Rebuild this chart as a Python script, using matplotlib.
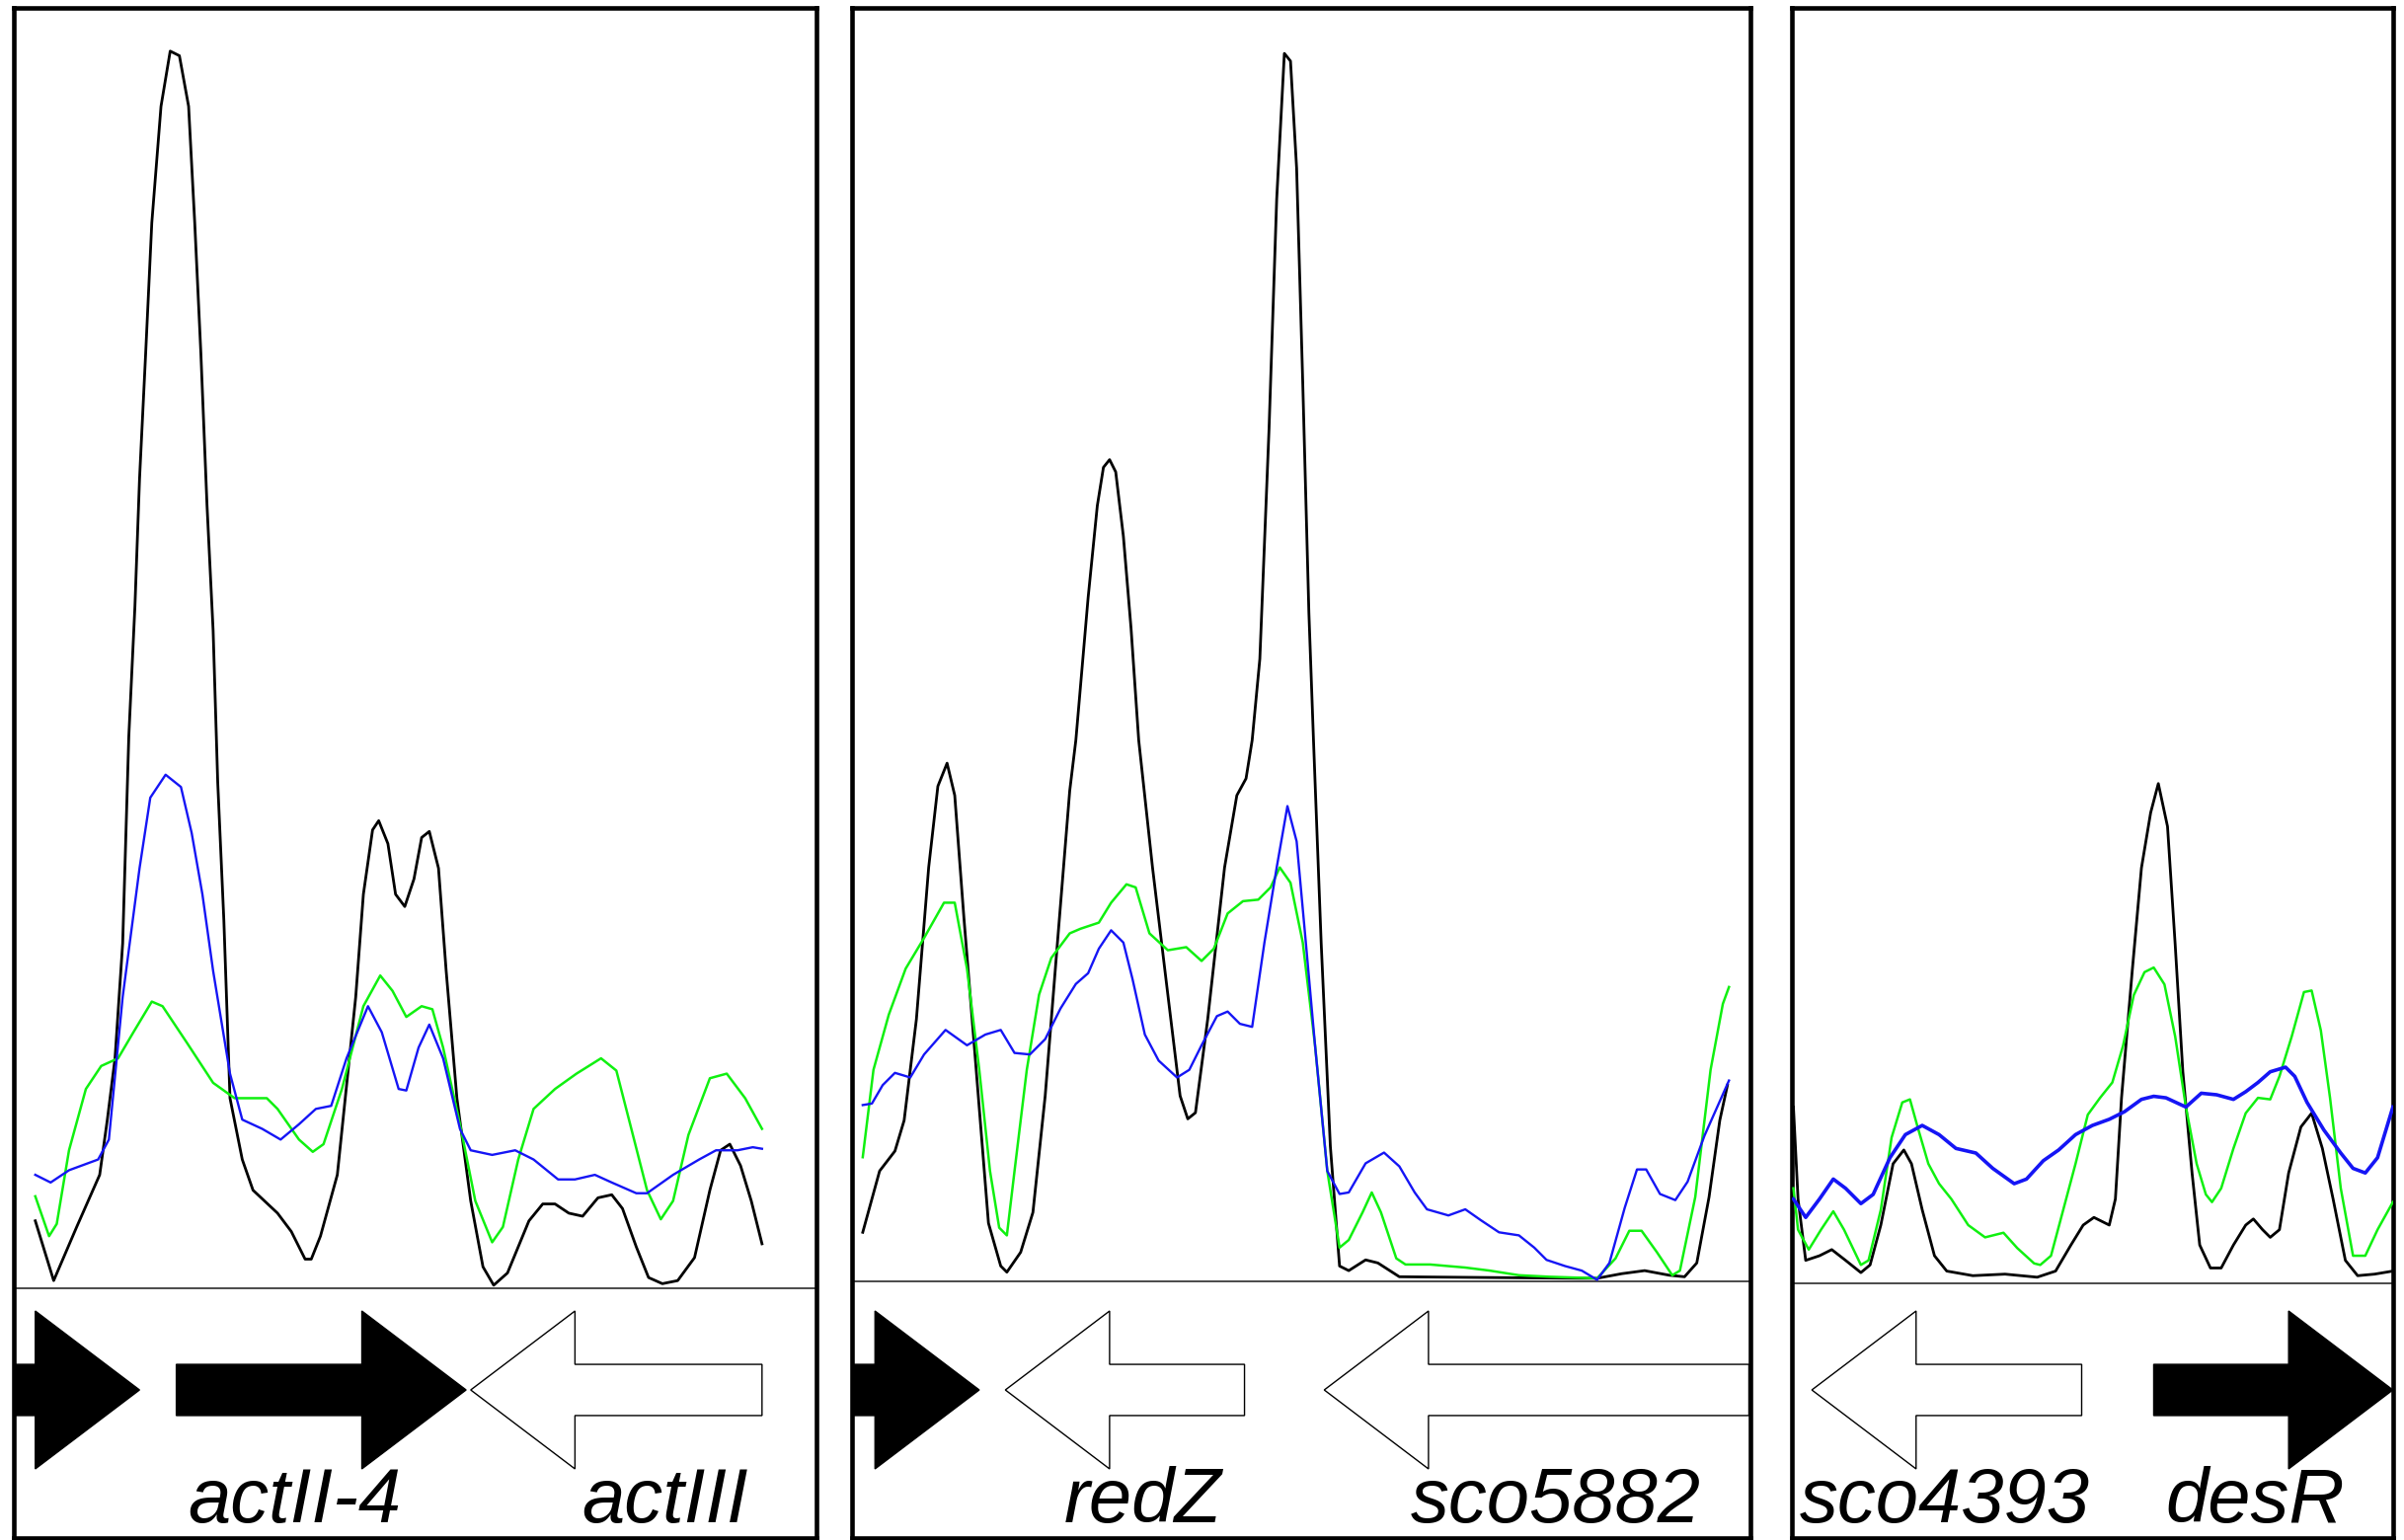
import matplotlib
matplotlib.use("Agg")
import matplotlib.pyplot as plt
from matplotlib.patches import FancyArrow

# ChIP-like signal tracks
# x = position along each window, y = signal above the baseline (same units in all panels)

# --- panel 1: actII-4 / actIII ---
p1_black_x = [14, 26, 41, 56, 61, 66, 71, 75, 79, 82, 86, 90, 96, 102, 108, 114, 118, 122, 126, 130,
              133, 137, 141, 149, 156, 172, 181, 190, 194, 200, 211, 223, 228, 234, 238, 244, 249, 255, 261, 266,
              271, 277, 282, 289, 298, 306, 313, 322, 336, 345, 353, 362, 371, 381, 390, 397, 406, 414, 423, 433,
              444, 454, 461, 467, 474, 481, 488]
p1_black_y = [44, 5, 40, 74, 110, 150, 225, 360, 445, 528, 610, 695, 771, 807, 804, 771, 695, 610, 511, 429,
              330, 240, 124, 84, 64, 49, 37, 19, 19, 34, 74, 190, 257, 299, 305, 290, 257, 249, 267, 294,
              298, 274, 207, 124, 57, 14, 2, 10, 44, 55, 55, 49, 47, 59, 61, 52, 27, 7, 3, 5,
              20, 64, 90, 94, 80, 57, 29]
p1_green_x = [14, 23, 28, 36, 47, 57, 68, 78, 90, 97, 113, 130, 144, 165, 172, 186, 195, 202, 214, 228,
              239, 247, 256, 266, 273, 280, 291, 301, 312, 319, 329, 339, 353, 367, 383, 393, 402, 413, 422, 430,
              440, 454, 465, 477, 488]
p1_green_y = [60, 34, 42, 90, 130, 145, 150, 167, 187, 184, 160, 134, 124, 124, 117, 97, 89, 94, 130, 184,
              204, 194, 177, 184, 182, 157, 107, 57, 30, 40, 84, 117, 130, 140, 150, 142, 107, 64, 45, 57,
              100, 137, 140, 124, 104]
p1_blue_x = [14, 24, 36, 55, 62, 71, 82, 89, 99, 109, 116, 123, 130, 141, 149, 162, 174, 186, 197, 207,
             217, 231, 240, 251, 256, 264, 271, 280, 291, 298, 312, 327, 339, 355, 366, 379, 390, 406, 413, 430,
             447, 458, 472, 482, 488]
p1_blue_y = [74, 69, 77, 84, 97, 190, 274, 320, 335, 327, 297, 257, 207, 140, 110, 104, 97, 107, 117, 119,
             150, 184, 167, 130, 129, 157, 172, 150, 104, 90, 87, 90, 84, 71, 71, 74, 69, 62, 62, 74,
             84, 90, 90, 92, 91]

# --- panel 2: redZ / sco5882 ---
p2_black_x = [7, 18, 28, 34, 42, 50, 56, 62, 67, 73, 81, 89, 97, 101, 110, 118, 126, 134, 142, 146,
              154, 160, 164, 168, 172, 177, 182, 187, 196, 206, 214, 219, 224, 232, 243, 251, 257, 261, 266, 272,
              277, 282, 286, 290, 294, 298, 301, 306, 312, 318, 324, 335, 343, 357, 474, 486, 502, 517, 533, 543,
              551, 559, 566, 571]
p2_black_y = [32, 72, 85, 105, 171, 270, 323, 338, 317, 237, 138, 38, 10, 6, 19, 45, 121, 221, 320, 353,
              446, 506, 531, 536, 528, 486, 426, 353, 270, 187, 121, 106, 110, 171, 270, 317, 328, 353, 406, 556,
              706, 801, 796, 726, 586, 436, 353, 221, 88, 10, 7, 14, 12, 3, 2, 2, 5, 7, 4, 3,
              12, 55, 105, 128]
p2_green_x = [7, 14, 24, 35, 47, 60, 67, 75, 83, 90, 96, 101, 106, 114, 122, 130, 142, 149, 161, 169,
              179, 185, 194, 206, 218, 228, 236, 245, 255, 265, 273, 279, 286, 294, 302, 310, 318, 324, 333, 339,
              345, 355, 361, 377, 400, 416, 435, 455, 486, 498, 507, 515, 525, 535, 540, 550, 560, 568, 572]
p2_green_y = [81, 138, 174, 204, 224, 247, 247, 204, 138, 72, 35, 30, 72, 138, 187, 211, 227, 230, 234, 247,
              259, 257, 227, 216, 218, 209, 217, 240, 248, 249, 257, 270, 260, 221, 154, 72, 22, 27, 45, 58,
              45, 15, 11, 11, 9, 7, 4, 3, 2, 15, 33, 33, 19, 4, 7, 55, 138, 181, 192]
p2_blue_x = [7, 13, 20, 28, 38, 47, 61, 75, 87, 97, 106, 116, 126, 136, 146, 154, 161, 169, 177, 183,
             191, 200, 212, 220, 228, 238, 245, 253, 261, 269, 277, 284, 290, 296, 302, 310, 318, 324, 335, 347,
             357, 367, 375, 389, 400, 410, 422, 435, 445, 453, 465, 476, 486, 494, 504, 512, 518, 527, 537, 545,
             556, 572]
p2_blue_y = [115, 116, 128, 136, 133, 148, 164, 154, 161, 164, 149, 148, 158, 178, 194, 201, 217, 229, 221, 197,
             161, 144, 133, 138, 154, 173, 176, 168, 166, 221, 270, 310, 287, 221, 154, 72, 57, 58, 77, 84,
             75, 58, 47, 43, 47, 40, 32, 30, 22, 14, 10, 7, 1, 12, 48, 73, 73, 57, 53, 65,
             95, 131]

# --- panel 3: sco4393 / desR ---
p3_black_x = [1, 4, 9, 18, 26, 35, 45, 51, 58, 66, 73, 78, 85, 93, 101, 118, 139, 160, 172, 182,
              190, 197, 203, 207, 211, 215, 222, 228, 234, 239, 245, 250, 255, 261, 266, 273, 280, 288, 296, 301,
              307, 312, 318, 324, 332, 339, 346, 353, 361, 369, 380, 392]
p3_black_y = [115, 55, 15, 18, 22, 15, 7, 12, 38, 78, 87, 78, 48, 18, 8, 5, 6, 4, 8, 25,
              38, 43, 40, 38, 55, 121, 204, 271, 307, 326, 298, 221, 138, 72, 25, 10, 10, 25, 38, 42,
              35, 30, 35, 72, 102, 111, 88, 55, 15, 5, 6, 8]
p3_green_x = [1, 4, 11, 19, 27, 34, 45, 50, 58, 65, 72, 77, 82, 89, 96, 104, 115, 126, 138, 147,
              158, 162, 169, 177, 185, 193, 201, 209, 216, 223, 230, 236, 243, 250, 257, 264, 270, 274, 280, 288,
              296, 304, 312, 318, 326, 334, 339, 345, 351, 358, 366, 374, 382, 392]
p3_green_y = [62, 35, 22, 35, 47, 35, 12, 15, 48, 95, 118, 120, 102, 78, 65, 55, 38, 30, 33, 23,
              13, 12, 18, 48, 78, 110, 121, 131, 155, 188, 203, 206, 195, 161, 115, 78, 58, 53, 62, 88,
              111, 121, 120, 135, 161, 190, 191, 165, 121, 62, 18, 18, 35, 53]
p3_blue_x = [1, 9, 18, 27, 35, 45, 53, 64, 74, 85, 96, 107, 120, 131, 145, 153, 164, 174, 185, 196,
             207, 217, 228, 236, 244, 257, 267, 277, 288, 296, 304, 312, 322, 328, 336, 347, 358, 366, 374, 382,
             392]
p3_blue_y = [55, 43, 55, 68, 62, 52, 58, 82, 97, 103, 97, 88, 85, 75, 65, 68, 80, 87, 97, 103,
             107, 112, 120, 122, 121, 115, 124, 123, 120, 125, 131, 138, 141, 135, 118, 100, 85, 75, 72, 82,
             115]

# genes: left end, right end, strand
p1_genes = ["", "actII-4", "actIII"]
p1_gene_left = [-40, 106, 298]
p1_gene_right = [82, 295, 488]
p1_strand = ["+", "+", "-"]

p2_genes = ["", "redZ", "sco5882"]
p2_gene_left = [-40, 100, 308]
p2_gene_right = [83, 256, 585]
p2_strand = ["+", "-", "-"]

p3_genes = ["sco4393", "desR"]
p3_gene_left = [13, 236]
p3_gene_right = [189, 392]
p3_strand = ["-", "+"]

# where the gene names sit (x centre)
p1_label_x = [0, 183, 425]
p2_label_x = [0, 190, 459]
p3_label_x = [100, 302]

# layout in output pixels
W, H = 2435, 1560
SCALE = 2435 / 1568
TOP, BOTTOM = 8, 1558
ARROW_Y, LABEL_Y = 1408, 1542
panel_px = [(14, 827, 1305), (863, 1773, 1298), (1815, 2424, 1300)]

panels = [
    dict(black=(p1_black_x, p1_black_y), green=(p1_green_x, p1_green_y), blue=(p1_blue_x, p1_blue_y),
         genes=p1_genes, left=p1_gene_left, right=p1_gene_right, strand=p1_strand, lx=p1_label_x, blue_lw=1.7),
    dict(black=(p2_black_x, p2_black_y), green=(p2_green_x, p2_green_y), blue=(p2_blue_x, p2_blue_y),
         genes=p2_genes, left=p2_gene_left, right=p2_gene_right, strand=p2_strand, lx=p2_label_x, blue_lw=1.7),
    dict(black=(p3_black_x, p3_black_y), green=(p3_green_x, p3_green_y), blue=(p3_blue_x, p3_blue_y),
         genes=p3_genes, left=p3_gene_left, right=p3_gene_right, strand=p3_strand, lx=p3_label_x, blue_lw=2.6),
]

fig = plt.figure(figsize=(W / 100, H / 100), dpi=100)

for p, (l, r, sep) in zip(panels, panel_px):
    ax = fig.add_axes([l / W, 1 - BOTTOM / H, (r - l) / W, (BOTTOM - TOP) / H])
    ax.set_xlim(0, (r - l) / SCALE)
    ax.set_ylim(-(BOTTOM - sep) / SCALE, (sep - TOP) / SCALE)
    ax.set_xticks([])
    ax.set_yticks([])
    for s in ax.spines.values():
        s.set_linewidth(3.3)
        s.set_color('black')

    ax.axhline(0, color='#4a4a4a', lw=1.4, zorder=1)

    ax.plot(*p['black'], color='black', lw=2.0, solid_joinstyle='round', zorder=2)
    ax.plot(*p['green'], color='#10f010', lw=1.8, solid_joinstyle='round', zorder=3)
    ax.plot(*p['blue'], color='#1515f5', lw=p['blue_lw'], solid_joinstyle='round', zorder=4)

    y_arrow = -(ARROW_Y - sep) / SCALE
    y_label = -(LABEL_Y - sep) / SCALE
    for name, g0, g1, st, lx in zip(p['genes'], p['left'], p['right'], p['strand'], p['lx']):
        if st == "+":
            arr = FancyArrow(g0, y_arrow, g1 - g0, 0, width=33.4, head_width=103, head_length=68,
                             length_includes_head=True, facecolor='black', edgecolor='black', lw=1.0)
        else:
            arr = FancyArrow(g1, y_arrow, g0 - g1, 0, width=33.4, head_width=103, head_length=68,
                             length_includes_head=True, facecolor='white', edgecolor='black', lw=1.0)
        ax.add_patch(arr)
        if name:
            ax.text(lx, y_label, name, ha='center', va='baseline', fontsize=56,
                    fontstyle='italic', family='Liberation Sans', color='black')

fig.savefig('out.png', dpi=100)
